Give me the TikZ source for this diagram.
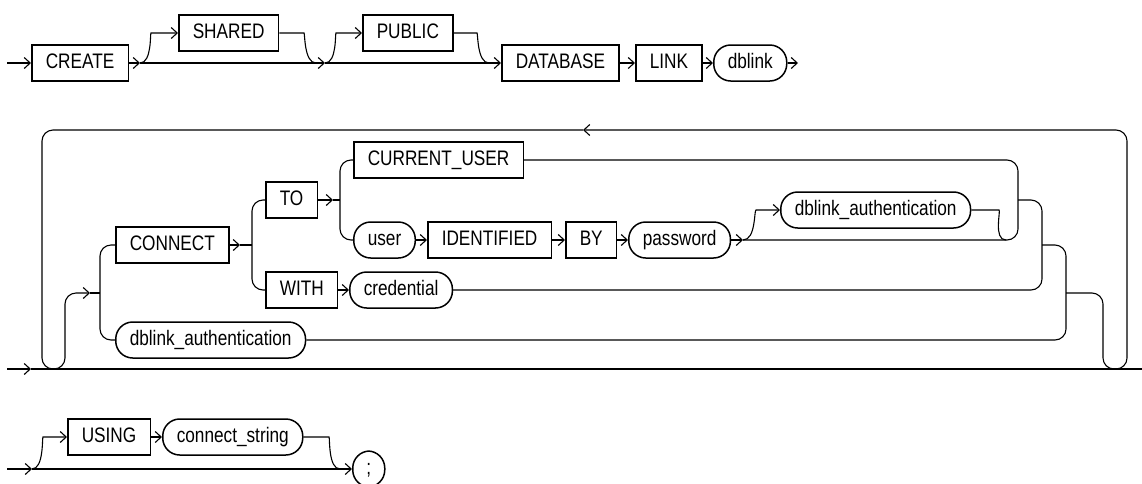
\documentclass[tikz,border=0pt]{standalone}
\usepackage{fontspec}
\setmainfont{Liberation Sans}[FakeStretch=0.82]
\usepackage{tikz}
\usetikzlibrary{arrows.meta}

\begin{document}
\begin{tikzpicture}[
        x=1pt, y=-1pt,
        every node/.style={font=\fontsize{21}{24}\selectfont},
        kwbox/.style={draw, line width=1.5pt, anchor=west, inner xsep=14pt, inner ysep=0pt,
            minimum height=36pt, text height=15pt, text depth=4.2pt},
        ntbox/.style={kwbox, rounded corners=17pt},
        rail/.style={draw, line width=1.1pt, rounded corners=11pt},
        lead/.style={rail, -{Straight Barb[length=6pt, width=11pt, line width=1.1pt]}}
    ]
    \useasboundingbox (0,0) rectangle (1142,483);

    % =============== baris 1: CREATE ... dblink ===============
    \node[kwbox] (create)   at (31,63)  {CREATE};
    \node[kwbox] (shared)   at (178,33) {SHARED};
    \node[kwbox] (public)   at (362,33) {PUBLIC};
    \node[kwbox] (database) at (501,63) {DATABASE};
    \node[kwbox] (link)     at (635,63) {LINK};
    \node[ntbox] (dblink)   at (713,63) {dblink};

    \coordinate (r1in)  at (7,63);
    \coordinate (r1a)   at (140,63);
    \coordinate (r1b)   at (325,63);
    \coordinate (r1end) at (798,63);

    \draw[lead] (r1in) -- (create.west);
    \draw[lead] (create.east) -- (r1a);
    \draw[lead] (r1a) -- (r1b);
    \draw[lead] (r1b) -- (database.west);
    \draw[lead] (database.east) -- (link.west);
    \draw[lead] (link.east) -- (dblink.west);
    \draw[lead] (dblink.east) -- (r1end);

    % cabang opsional
    \draw[lead] (r1a) .. controls +(12,0) and +(-12,0) .. (162,33) -- (shared.west);
    \draw[rail] (shared.east) -- (293,33) .. controls +(12,0) and +(-12,0) .. (316,63);
    \draw[lead] (r1b) .. controls +(12,0) and +(-12,0) .. (347,33) -- (public.west);
    \draw[rail] (public.east) -- (466,33) .. controls +(12,0) and +(-12,0) .. (489,63);

    % =============== baris 2: klausa CONNECT, berulang ===============
    \node[kwbox] (connect)    at (115,245) {CONNECT};
    \node[kwbox] (to)         at (265,200) {TO};
    \node[kwbox] (with)       at (265,290) {WITH};
    \node[ntbox] (credential) at (349,290) {credential};
    \node[kwbox] (curuser)    at (353,160) {CURRENT\_USER};
    \node[ntbox] (user)       at (353,240) {user};
    \node[kwbox] (identified) at (427,240) {IDENTIFIED};
    \node[kwbox] (by)         at (565,240) {BY};
    \node[ntbox] (password)   at (628,240) {password};
    \node[ntbox] (authopt)    at (780,210) {dblink\_authentication};
    \node[ntbox] (authalt)    at (115,340) {dblink\_authentication};

    \coordinate (r2in)  at (7,369);
    \coordinate (r2a)   at (31,369);
    \coordinate (r2out) at (1142,369);
    \coordinate (back)  at (583,130);
    \coordinate (jin)   at (100,293);
    \coordinate (jout)  at (1066,293);
    \coordinate (pw)    at (743,240);

    \draw[lead] (r2in) -- (r2a);
    \draw[rail] (r2a) -- (r2out);

    % lingkar balik
    \draw[lead] (jout) -- (1103,293) -- (1103,369) -- (1127,369) -- (1127,130) -- (back);
    \draw[lead] (back) -- (42,130) -- (42,369) -- (65,369) -- (65,293) -- (90,293);
    \draw[rail] (90,293) -- (jin);

    \draw[rail] (connect.west) -- (100,245) -- (100,340) -- (authalt.west);
    \draw[lead] (connect.east) -- (240,245);
    \draw[rail] (240,245) -- (252,245);
    \draw[rail] (to.west) -- (252,200) -- (252,290) -- (with.west);
    \draw[lead] (to.east) -- (333,200);
    \draw[rail] (333,200) -- (340,200);
    \draw[rail] (curuser.west) -- (340,160) -- (340,240) -- (user.west);

    \draw[lead] (user.east) -- (identified.west);
    \draw[lead] (identified.east) -- (by.west);
    \draw[lead] (by.east) -- (password.west);
    \draw[lead] (password.east) -- (pw);
    \draw[lead] (with.east) -- (credential.west);

    % autentikasi opsional
    \draw[lead] (pw) .. controls +(13,0) and +(-13,0) .. (767,210) -- (authopt.west);
    \draw[rail] (authopt.east) -- (988,210) .. controls +(13,0) and +(-13,0) .. (1006,240);

    % titik gabung kanan
    \draw[rail] (pw) -- (1018,240) -- (1018,160) -- (curuser.east);
    \draw[rail] (1018,200) -- (1042,200) -- (1042,290) -- (credential.east);
    \draw[rail] (1042,245) -- (1066,245) -- (1066,340) -- (authalt.east);

    % =============== baris 3: USING ... ; ===============
    \node[kwbox] (using)   at (67,437)  {USING};
    \node[ntbox] (connstr) at (162,437) {connect\_string};
    \node[ntbox, minimum width=32pt, inner xsep=4pt] (semi) at (352,469) {;};

    \coordinate (r3in) at (7,469);
    \coordinate (r3a)  at (32,469);

    \draw[lead] (r3in) -- (r3a);
    \draw[lead] (r3a) -- (semi.west);
    \draw[lead] (r3a) .. controls +(12,0) and +(-12,0) .. (54,437) -- (using.west);
    \draw[lead] (using.east) -- (connstr.west);
    \draw[rail] (connstr.east) -- (318,437) .. controls +(12,0) and +(-12,0) .. (340,469);
\end{tikzpicture}
\end{document}
